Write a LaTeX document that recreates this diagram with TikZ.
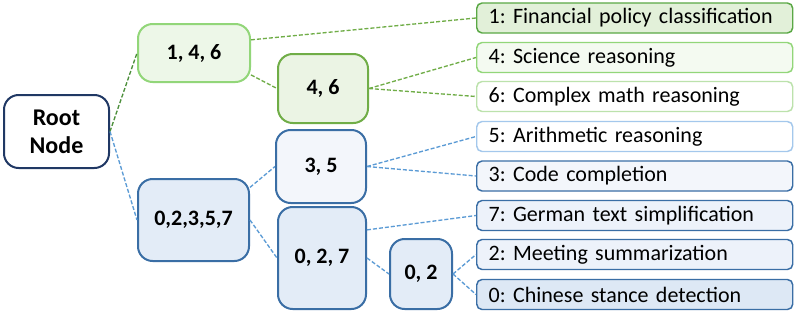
\documentclass[tikz,border=0pt]{standalone}
\usepackage{fontspec}
\setmainfont{Carlito}
\usetikzlibrary{positioning}

\definecolor{rootline}{HTML}{203864}
\definecolor{gline}{HTML}{70AD47}
\definecolor{gdark}{HTML}{5AA845}
\definecolor{glight}{HTML}{92D679}
\definecolor{gpale}{HTML}{BCE2AC}
\definecolor{gfillA}{HTML}{E2F0D9}
\definecolor{gfillB}{HTML}{EDF7E8}
\definecolor{gfillC}{HTML}{F4FAF1}
\definecolor{bline}{HTML}{3A6EA5}
\definecolor{blight}{HTML}{A4C8EC}
\definecolor{bedge}{HTML}{5B9BD5}
\definecolor{bfillA}{HTML}{DDE8F5}
\definecolor{bfillB}{HTML}{E3ECF7}
\definecolor{bfillC}{HTML}{EDF2FA}
\definecolor{bfillD}{HTML}{F3F6FB}

\frenchspacing

\begin{document}
\begin{tikzpicture}[x=0.75pt, y=-0.75pt,
    inner/.style={draw, rounded corners=11pt, line width=1.5pt,
        align=center, inner sep=2pt,
        font=\fontsize{16.5}{19}\selectfont\bfseries},
    leaf/.style={draw, rounded corners=4pt, line width=1.1pt, anchor=west,
        minimum width=237pt, minimum height=22.5pt, inner xsep=9pt,
        text width=219pt, align=left, font=\fontsize{16.5}{18}\selectfont},
    glink/.style={draw=gline, line width=1pt, dash pattern=on 3pt off 1.5pt},
    blink/.style={draw=bedge, line width=1pt, dash pattern=on 3pt off 1.5pt}
]
    \useasboundingbox[fill=white] (0,0) rectangle (797,315);

    \node[inner, draw=rootline, fill=white, minimum width=78.75pt,
        minimum height=54.75pt, font=\fontsize{18}{21}\selectfont\bfseries]
        (root) at (56.5,131.5) {Root\\Node};

    \node[inner, draw=glight, fill=gfillB, minimum width=84pt,
        minimum height=43.5pt] (n146) at (194,53) {1, 4, 6};
    \node[inner, draw=gline, fill=gfillA!70!white, minimum width=67.5pt,
        minimum height=51.75pt] (n46) at (323,88.5) {4, 6};
    \node[inner, draw=bline, fill=bfillB, minimum width=83.25pt,
        minimum height=61.5pt] (n02357) at (193.5,220) {0,2,3,5,7};
    \node[inner, draw=bline, fill=bfillD, minimum width=67.5pt,
        minimum height=54.75pt] (n35) at (321,166.5) {3, 5};
    \node[inner, draw=bline, fill=bfillB, minimum width=66pt,
        minimum height=76.5pt] (n027) at (322,258) {0, 2, 7};
    \node[inner, draw=bline, fill=bfillB, minimum width=46.5pt,
        minimum height=52.5pt] (n02) at (421,274) {0, 2};

    \node[leaf, draw=gdark, fill=gfillA] (t1) at (476,18)
        {1: Financial policy classification};
    \node[leaf, draw=glight, fill=gfillC] (t4) at (476,57.5)
        {4: Science reasoning};
    \node[leaf, draw=gpale, fill=white] (t6) at (476,96.5)
        {6: Complex math reasoning};
    \node[leaf, draw=blight, fill=white] (t5) at (476,136.5)
        {5: Arithmetic reasoning};
    \node[leaf, draw=bline, fill=bfillD] (t3) at (476,176)
        {3: Code completion};
    \node[leaf, draw=bline, fill=bfillC] (t7) at (476,215.5)
        {7: German text simplification};
    \node[leaf, draw=bline, fill=bfillC] (t2) at (476,254.5)
        {2: Meeting summarization};
    \node[leaf, draw=bline, fill=bfillA] (t0) at (476,294.5)
        {0: Chinese stance detection};

    % green branch
    \draw[glink, draw=gdark!85!black] (root.east) -- (n146.west);
    \draw[glink] (n146.13) -- (t1.west);
    \draw[glink] (n146.-21) -- (n46.west);
    \draw[glink] (n46.east) -- (t4.west);
    \draw[glink] (n46.east) -- (t6.west);

    % blue branch
    \draw[blink] (root.east) -- (n02357.west);
    \draw[blink] (n02357.30) -- (n35.west);
    \draw[blink] (n02357.east) -- (n027.west);
    \draw[blink] (n35.east) -- (t5.west);
    \draw[blink] (n35.east) -- (t3.west);
    \draw[blink] (n027.32) -- (t7.west);
    \draw[blink] (n027.east) -- (n02.west);
    \draw[blink] (n02.east) -- (t2.west);
    \draw[blink] (n02.east) -- (t0.west);
\end{tikzpicture}
\end{document}
